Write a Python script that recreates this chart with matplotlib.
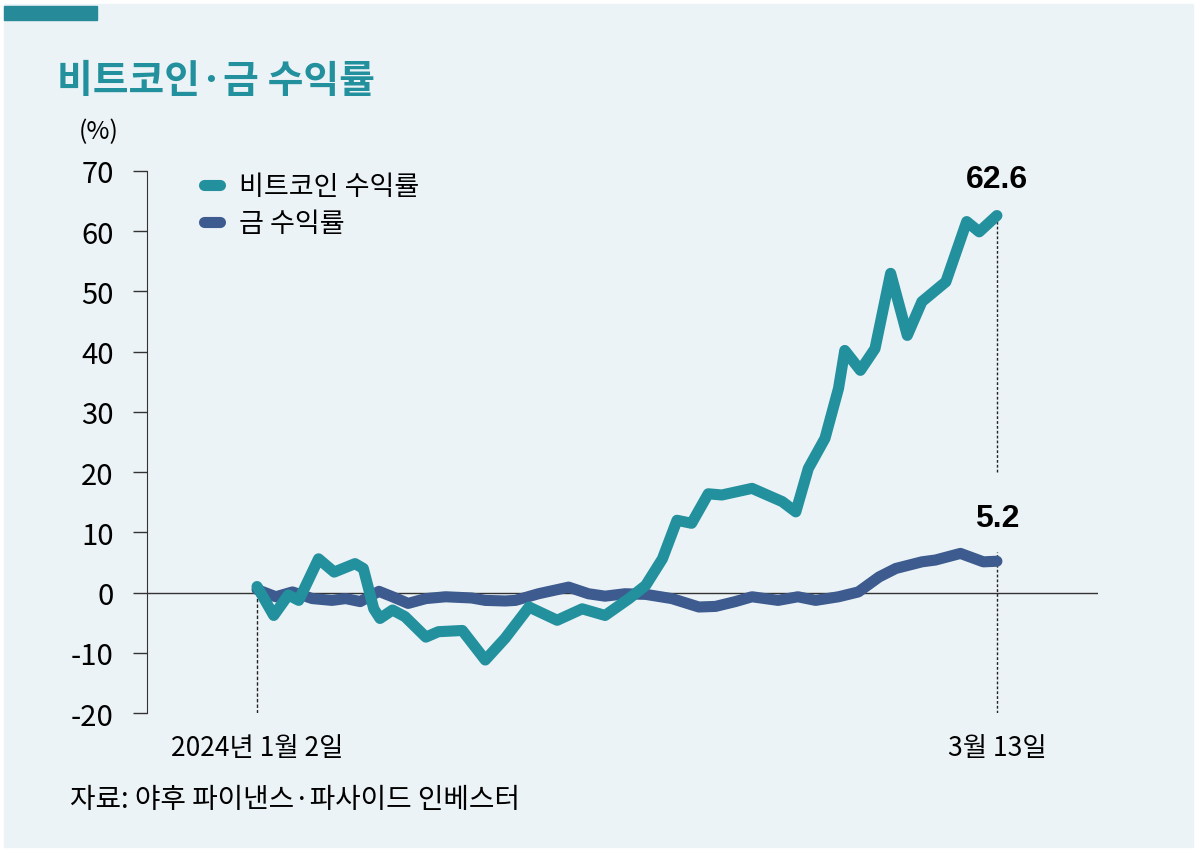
import matplotlib
matplotlib.use('Agg')
import matplotlib.pyplot as plt
from matplotlib.patches import Rectangle

plt.rcParams['font.family'] = ['Noto Sans CJK KR', 'DejaVu Sans']
plt.rcParams['axes.unicode_minus'] = False

# 2024-01-02 = day 0, 2024-03-13 = day 71
btc_days = [0, 1.6, 3.0, 4.0, 5.9, 7.4, 9.4, 10.2, 11.2, 11.8, 13.0, 14.2, 16.2, 17.4, 19.7,
            21.9, 23.8, 26.1, 28.8, 31.2, 33.4, 35.7, 37.3, 38.9, 40.3, 41.7, 43.3, 44.6,
            47.5, 50.4, 51.7, 52.9, 54.5, 55.8, 56.4, 57.9, 59.3, 60.8, 62.4, 63.8, 66.1,
            68.1, 69.3, 71]
btc_ret = [1.0, -3.8, -0.4, -1.3, 5.6, 3.4, 4.8, 4.0, -2.7, -4.3, -2.9, -4.0, -7.4, -6.5, -6.3,
           -11.2, -7.6, -2.4, -4.6, -2.7, -3.8, -1.0, 1.2, 5.6, 12.0, 11.5, 16.4, 16.2,
           17.3, 15.1, 13.4, 20.6, 25.6, 33.9, 40.2, 36.9, 40.5, 53.0, 42.7, 48.3, 51.6,
           61.6, 59.9, 62.6]

gold_days = [0, 1.8, 3.4, 5.3, 7.2, 8.5, 9.9, 11.7, 13.0, 14.5, 16.2, 18.1, 20.6, 21.9, 23.8,
             24.8, 27.0, 29.9, 31.8, 33.4, 35.3, 37.3, 39.8, 42.4, 44.0, 45.9, 47.5, 50.0,
             51.9, 53.6, 55.8, 57.7, 59.7, 61.3, 63.8, 65.1, 67.5, 69.7, 71]
gold_ret = [0.5, -0.7, 0.1, -1.0, -1.3, -1.0, -1.5, 0.2, -0.7, -1.8, -1.0, -0.7, -0.9, -1.3, -1.4,
            -1.3, -0.2, 0.9, -0.2, -0.6, -0.2, -0.3, -1.0, -2.4, -2.3, -1.5, -0.7, -1.3,
            -0.7, -1.3, -0.7, 0.1, 2.6, 4.0, 5.1, 5.4, 6.5, 5.1, 5.2]

y_ticks = [-20, -10, 0, 10, 20, 30, 40, 50, 60, 70]
x_tick_days = [0, 71]
x_tick_labels = ['2024년 1월 2일', '3월 13일']

teal = '#23909e'
navy = '#3d5b8f'
bg = '#ecf3f6'
narrow = ['Liberation Sans Narrow', 'Noto Sans CJK KR']

fig = plt.figure(figsize=(12, 8.54), dpi=100)
fig.patches.append(Rectangle((4 / 1200, 1 - 848 / 854), 1189 / 1200, 843 / 854,
                             transform=fig.transFigure, color=bg, zorder=-10))
fig.patches.append(Rectangle((4 / 1200, 1 - 21 / 854), 93 / 1200, 14 / 854,
                             transform=fig.transFigure, color='#268a98', zorder=-5))
fig.text(57 / 1200, 1 - 82 / 854, '비트코인·금 수익률', fontsize=28, fontweight='bold',
         color=teal, va='center')
fig.text(99 / 1200, 1 - 132 / 854, '(%)', fontsize=18, family=narrow, ha='center', va='center')
fig.text(70 / 1200, 1 - 800 / 854, '자료: 야후 파이낸스·파사이드 인베스터', fontsize=20,
         family=narrow, va='center')

ax = fig.add_axes([147 / 1200, 1 - 714 / 854, 951 / 1200, 542 / 854])
ax.set_facecolor('none')

ax.axhline(0, color='#333333', lw=1, zorder=1)
ax.plot(gold_days, gold_ret, color=navy, lw=8, solid_capstyle='round',
        solid_joinstyle='round', label='금 수익률', zorder=3)
ax.plot(btc_days, btc_ret, color=teal, lw=8, solid_capstyle='round',
        solid_joinstyle='round', label='비트코인 수익률', zorder=4)

# dashed guides
ax.vlines(x_tick_days[0], -20, btc_ret[0], color='#222222', lw=1, linestyles=(0, (2.5, 1.5)), zorder=2)
ax.vlines(x_tick_days[1], 20, btc_ret[-1], color='#222222', lw=1, linestyles=(0, (2, 1.5)), zorder=2)
ax.vlines(x_tick_days[1], -20, gold_ret[-1] + 1.5, color='#222222', lw=1, linestyles=(0, (2, 1.5)), zorder=2)

ax.annotate(f'{btc_ret[-1]:.1f}', (btc_days[-1], btc_ret[-1]), xytext=(0, 26),
            textcoords='offset points', ha='center', va='center', fontsize=23,
            fontweight='bold', family=['Liberation Sans', 'DejaVu Sans'])
ax.annotate(f'{gold_ret[-1]:.1f}', (gold_days[-1], gold_ret[-1]), xytext=(0, 31),
            textcoords='offset points', ha='center', va='center', fontsize=23,
            fontweight='bold', family=['Liberation Sans', 'DejaVu Sans'])

ax.set_xlim(-10.56, 80.7)
ax.set_ylim(-20, 70)
ax.set_yticks(y_ticks)
ax.set_xticks(x_tick_days)
ax.set_xticklabels(x_tick_labels)
ax.tick_params(axis='y', length=10, width=1, color='#333333', pad=14, labelsize=21,
               labelfontfamily=narrow)
ax.tick_params(axis='x', length=0, pad=15, labelsize=19, labelfontfamily=narrow)
for s in ['top', 'right', 'bottom']:
    ax.spines[s].set_visible(False)
ax.spines['left'].set_color('#333333')

handles, labels = ax.get_legend_handles_labels()
ax.legend(handles[::-1], labels[::-1], loc='upper left', bbox_to_anchor=(204 / 1200, 1 - 174 / 854),
          bbox_transform=fig.transFigure, frameon=False, handlelength=0.6, handletextpad=0.7,
          labelspacing=0.37, borderpad=0, borderaxespad=0, prop={'size': 19.5})

fig.savefig('out.png', dpi=100, facecolor='white')
